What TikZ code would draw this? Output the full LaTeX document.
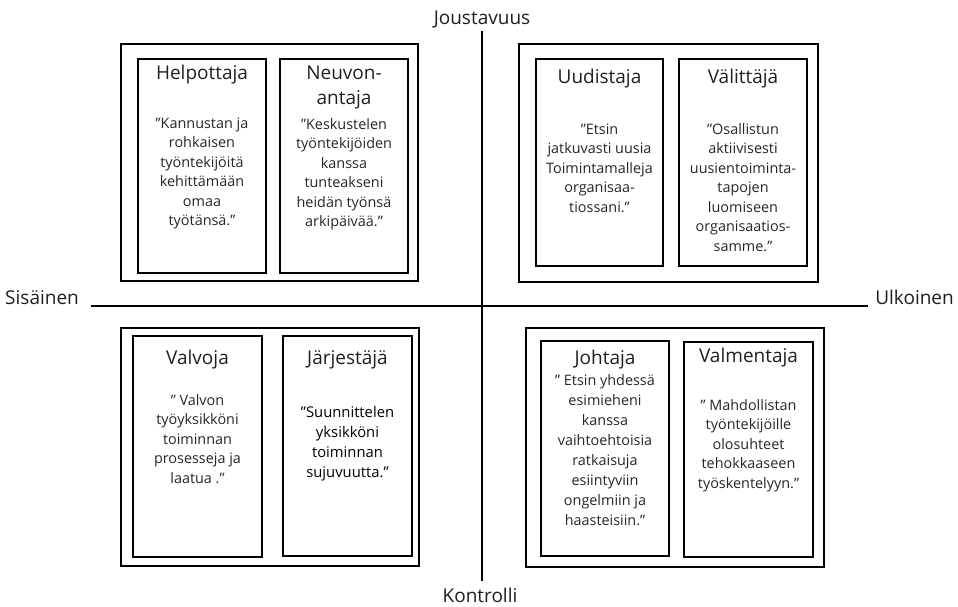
\documentclass[tikz,border=0pt]{standalone}
\usepackage{fontspec}
\setmainfont{Open Sans}
\begin{document}
\begin{tikzpicture}[x=1pt,y=-1pt,
  outerbox/.style 2 args={draw, line width=1.4pt, inner sep=0pt,
    minimum width=#1, minimum height=#2},
  rolebox/.style 2 args={draw, line width=1.5pt, inner sep=0pt,
    minimum width=#1, minimum height=#2},
  % multi-line nodes: the base anchor sits on the last line
  roletitle/.style={anchor=base, align=center, inner sep=0pt, text=black!88,
    font=\fontsize{19}{25}\selectfont},
  rolequote/.style={anchor=base, align=center, inner sep=0pt, text=black!85,
    font=\fontsize{14.4}{19.5}\selectfont},
  axislabel/.style={inner sep=0pt, text=black!88,
    font=\fontsize{19}{22}\selectfont},
  axisline/.style={line width=1.8pt}]
\useasboundingbox (0,0) rectangle (958,606);

% axes
\coordinate (vtop) at (482,31);
\coordinate (vbot) at (482,581);
\coordinate (hleft) at (91,306);
\coordinate (hright) at (868,306);
\draw[axisline] (vtop) -- (vbot);
\draw[axisline] (hleft) -- (hright);
\node[axislabel, anchor=base] (flex) at (482,24) {Joustavuus};
\node[axislabel, anchor=base] (ctrl) at (480,602) {Kontrolli};
\node[axislabel, anchor=base west] (inner) at (5,304) {Sisäinen};
\node[axislabel, anchor=base east] (outer) at (954,304) {Ulkoinen};

% quadrant frames
\node[outerbox={297pt}{237pt}] (qtl) at (269.5,162.5) {};
\node[outerbox={299pt}{238pt}] (qtr) at (668.5,163) {};
\node[outerbox={298pt}{238pt}] (qbl) at (270,447) {};
\node[outerbox={298pt}{239pt}] (qbr) at (675,447.5) {};

% top left
\node[rolebox={128pt}{214pt}] (helpottaja) at (202,166) {};
\node[rolebox={128pt}{214pt}] (neuvonantaja) at (344,166) {};
\node[roletitle] (t1) at (202,79) {Helpottaja};
\node[rolequote] (q1) at (202,225.5) {”Kannustan ja\\rohkaisen\\työntekijöitä\\kehittämään\\omaa\\työtänsä.”};
\node[roletitle] (t2) at (344,104) {Neuvon-\\antaja};
\node[rolequote] (q2) at (344,226.5) {”Keskustelen\\työntekijöiden\\kanssa\\tunteakseni\\heidän työnsä\\arkipäivää.”};

% top right
\node[rolebox={127pt}{207pt}] (uudistaja) at (599.5,162.5) {};
\node[rolebox={128pt}{207pt}] (valittaja) at (743,162.5) {};
\node[roletitle] (t3) at (599.5,83) {Uudistaja};
\node[rolequote] (q3) at (599.5,212) {”Etsin\\jatkuvasti uusia\\Toimintamalleja\\organisaa-\\tiossani.”};
\node[roletitle] (t4) at (743,83) {Välittäjä};
\node[rolequote] (q4) at (743,251) {”Osallistun\\aktiivisesti\\uusientoiminta-\\tapojen\\luomiseen\\organisaatios-\\samme.”};

% bottom left
\node[rolebox={129pt}{221pt}] (valvoja) at (197.5,446.5) {};
\node[rolebox={129pt}{220pt}] (jarjestaja) at (347.5,446) {};
\node[roletitle] (t5) at (197.5,364) {Valvoja};
\node[rolequote] (q5) at (197.5,483) {” Valvon\\työyksikköni\\toiminnan\\prosesseja ja\\laatua .”};
\node[roletitle] (t6) at (347.5,364) {Järjestäjä};
\node[rolequote, font=\fontsize{14.8}{20}\selectfont, text=black] (q6) at (347.5,477) {”Suunnittelen\\yksikköni\\toiminnan\\sujuvuutta.”};

% bottom right
\node[rolebox={128pt}{215pt}] (johtaja) at (605,448.5) {};
\node[rolebox={129pt}{215pt}] (valmentaja) at (748.5,449.5) {};
\node[roletitle] (t7) at (605,364) {Johtaja};
\node[rolequote, font=\fontsize{14.4}{20}\selectfont] (q7) at (605,525) {” Etsin yhdessä\\esimieheni\\kanssa\\vaihtoehtoisia\\ratkaisuja\\esiintyviin\\ongelmiin ja\\haasteisiin.”};
\node[roletitle] (t8) at (748.5,362) {Valmentaja};
\node[rolequote] (q8) at (748.5,488) {” Mahdollistan\\työntekijöille\\olosuhteet\\tehokkaaseen\\työskentelyyn.”};
\end{tikzpicture}
\end{document}
